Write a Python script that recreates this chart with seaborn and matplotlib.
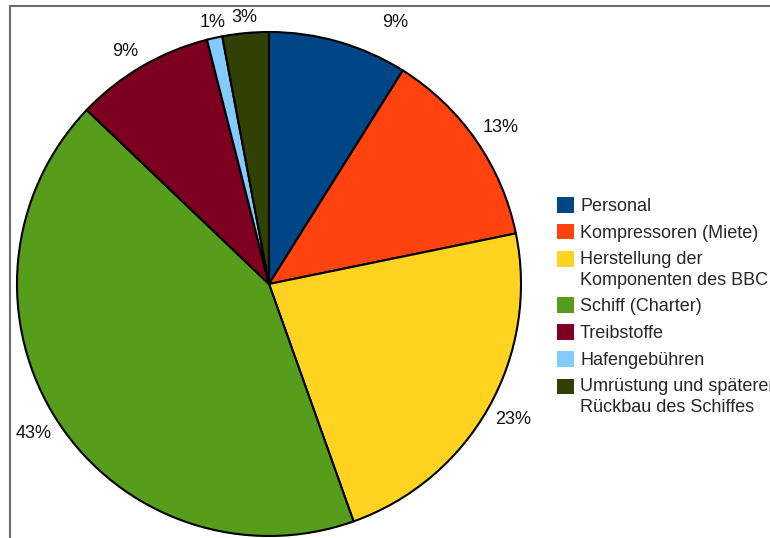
import matplotlib
matplotlib.use("Agg")
import matplotlib.pyplot as plt
import seaborn as sns
import numpy as np
from matplotlib.lines import Line2D
from matplotlib.patches import Patch, Rectangle
from matplotlib.legend_handler import HandlerPatch

# Cost shares (percent) of the project budget
categories = [
    "Personal",
    "Kompressoren (Miete)",
    "Herstellung der\nKomponenten des BBC",
    "Schiff (Charter)",
    "Treibstoffe",
    "Hafengebühren",
    "Umrüstung und späteren\nRückbau des Schiffes",
]
shares = [9, 13, 23, 43, 9, 1, 3]
colors = ["#004586", "#ff420e", "#ffd320", "#579d1c", "#7e0021", "#83caff", "#314004"]

sns.set_theme(style="white")
plt.rcParams["font.family"] = ["Liberation Sans", "DejaVu Sans"]

W, H = 770, 538
fig = plt.figure(figsize=(W / 100, H / 100), dpi=100)
fig.patch.set_facecolor("white")

# pie axes placed in pixel units: centre (269, 284), radius 252
cx, cy, r = 269, 284, 252
ax = fig.add_axes([(cx - r) / W, (H - cy - r) / H, 2 * r / W, 2 * r / H])

wedges, texts, autotexts = ax.pie(
    shares,
    colors=colors,
    startangle=90,
    counterclock=False,
    autopct=lambda p: f"{p:.0f}%",
    wedgeprops=dict(edgecolor="black", linewidth=1.5),
    textprops=dict(fontsize=13, color="#111111"),
)
ax.set_xlim(-1, 1)
ax.set_ylim(-1, 1)
ax.set_aspect("equal")
ax.axis("off")

# percentage labels anchored just outside the rim, aligned away from the centre
for i, (w, t) in enumerate(zip(wedges, autotexts)):
    ang = (w.theta1 + w.theta2) / 2
    rad = 1.03
    if i == 0:
        ang -= 8
        rad = 1.10
    a = np.deg2rad(ang)
    x, y = rad * np.cos(a), rad * np.sin(a)
    t.set_position((x, y))
    t.set_ha("left" if x > 0.25 else ("right" if x < -0.25 else "center"))
    t.set_va("bottom" if y > 0 else "top")


def square_handle(legend, orig_handle, xdescent, ydescent, width, height, fontsize):
    # two-line entries keep their square level with the first line
    shift = 0.6 * fontsize if getattr(orig_handle, "_two_lines", False) else 0
    return Rectangle((-xdescent, -ydescent + shift), width, height)


handles = []
for c, lab in zip(colors, categories):
    p = Patch(facecolor=c, edgecolor="none")
    p._two_lines = "\n" in lab
    handles.append(p)

leg = fig.legend(
    handles, categories,
    loc="upper left",
    bbox_to_anchor=(557 / W, 1 - 197 / H),
    frameon=False,
    fontsize=13,
    handlelength=0.95,
    handleheight=0.95,
    handletextpad=0.33,
    labelspacing=0.49,
    borderpad=0,
    borderaxespad=0,
    handler_map={Patch: HandlerPatch(patch_func=square_handle)},
)
for t in leg.get_texts():
    t.set_linespacing(1.3)

# thin grey frame along the top and left edges
fig.add_artist(Line2D([10 / W, 1], [1 - 6 / H, 1 - 6 / H], color="#6e6e6e", lw=1.5,
                      transform=fig.transFigure))
fig.add_artist(Line2D([10 / W, 10 / W], [0, 1 - 6 / H], color="#6e6e6e", lw=1.5,
                      transform=fig.transFigure))

fig.savefig("out.png", dpi=100)
